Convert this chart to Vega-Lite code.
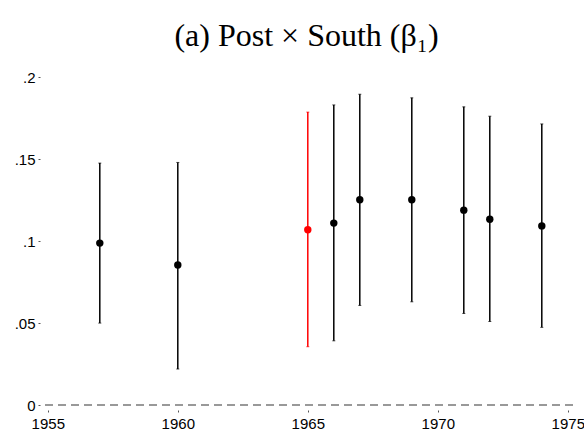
{
  "$schema": "https://vega.github.io/schema/vega-lite/v6.json",
  "autosize": "none",
  "width": 533,
  "height": 341,
  "padding": {"left": 40, "top": 69, "right": 11, "bottom": 24},
  "background": "white",
  "title": {
    "text": "(a) Post × South (β₁)",
    "font": "Liberation Serif",
    "fontSize": 32,
    "fontWeight": "normal",
    "color": "black",
    "anchor": "middle",
    "offset": 16
  },
  "data": {
    "values": [
      {"year": 1957, "est": 0.0988, "lo": 0.050, "hi": 0.1476, "grp": "other"},
      {"year": 1960, "est": 0.0854, "lo": 0.022, "hi": 0.148, "grp": "other"},
      {"year": 1965, "est": 0.1069, "lo": 0.0356, "hi": 0.1787, "grp": "base"},
      {"year": 1966, "est": 0.111, "lo": 0.0392, "hi": 0.1831, "grp": "other"},
      {"year": 1967, "est": 0.1252, "lo": 0.0608, "hi": 0.1896, "grp": "other"},
      {"year": 1969, "est": 0.1252, "lo": 0.063, "hi": 0.1874, "grp": "other"},
      {"year": 1971, "est": 0.1189, "lo": 0.0559, "hi": 0.1819, "grp": "other"},
      {"year": 1972, "est": 0.1134, "lo": 0.051, "hi": 0.1762, "grp": "other"},
      {"year": 1974, "est": 0.1093, "lo": 0.0474, "hi": 0.1715, "grp": "other"}
    ]
  },
  "config": {
    "view": {"stroke": null},
    "axis": {
      "domain": false,
      "grid": false,
      "labelFont": "Liberation Sans",
      "labelFontSize": 15,
      "labelColor": "black",
      "tickColor": "#555",
      "tickSize": 2,
      "tickWidth": 1,
      "title": null
    }
  },
  "encoding": {
    "x": {
      "field": "year",
      "type": "quantitative",
      "scale": {"domain": [1954.7, 1975.2], "nice": false, "zero": false},
      "axis": {"values": [1955, 1960, 1965, 1970, 1975], "format": "d", "labelPadding": 4}
    }
  },
  "layer": [
    {
      "data": {"values": [{"z": 0}]},
      "mark": {"type": "rule", "color": "#999999", "strokeWidth": 2, "strokeDash": [8, 5]},
      "encoding": {
        "x": null,
        "y": {"field": "z", "type": "quantitative"}
      }
    },
    {
      "mark": {"type": "rule", "strokeWidth": 1.5},
      "encoding": {
        "y": {
          "field": "lo",
          "type": "quantitative",
          "scale": {"domain": [-0.003, 0.205], "nice": false},
          "axis": {
            "values": [0, 0.05, 0.1, 0.15, 0.2],
            "labelPadding": 3,
            "labelExpr": "datum.value == 0 ? '0' : replace(format(datum.value, '~g'), '0.', '.')"
          }
        },
        "y2": {"field": "hi"},
        "color": {"field": "grp", "type": "nominal", "scale": {"domain": ["base", "other"], "range": ["#ff0000", "#000000"]}, "legend": null}
      }
    },
    {
      "mark": {"type": "tick", "orient": "horizontal", "size": 3, "thickness": 1},
      "encoding": {
        "y": {"field": "hi", "type": "quantitative"},
        "color": {"field": "grp", "type": "nominal", "legend": null}
      }
    },
    {
      "mark": {"type": "tick", "orient": "horizontal", "size": 3, "thickness": 1},
      "encoding": {
        "y": {"field": "lo", "type": "quantitative"},
        "color": {"field": "grp", "type": "nominal", "legend": null}
      }
    },
    {
      "mark": {"type": "point", "filled": true, "opacity": 1, "size": 55},
      "encoding": {
        "y": {"field": "est", "type": "quantitative"},
        "color": {"field": "grp", "type": "nominal", "legend": null}
      }
    }
  ]
}
